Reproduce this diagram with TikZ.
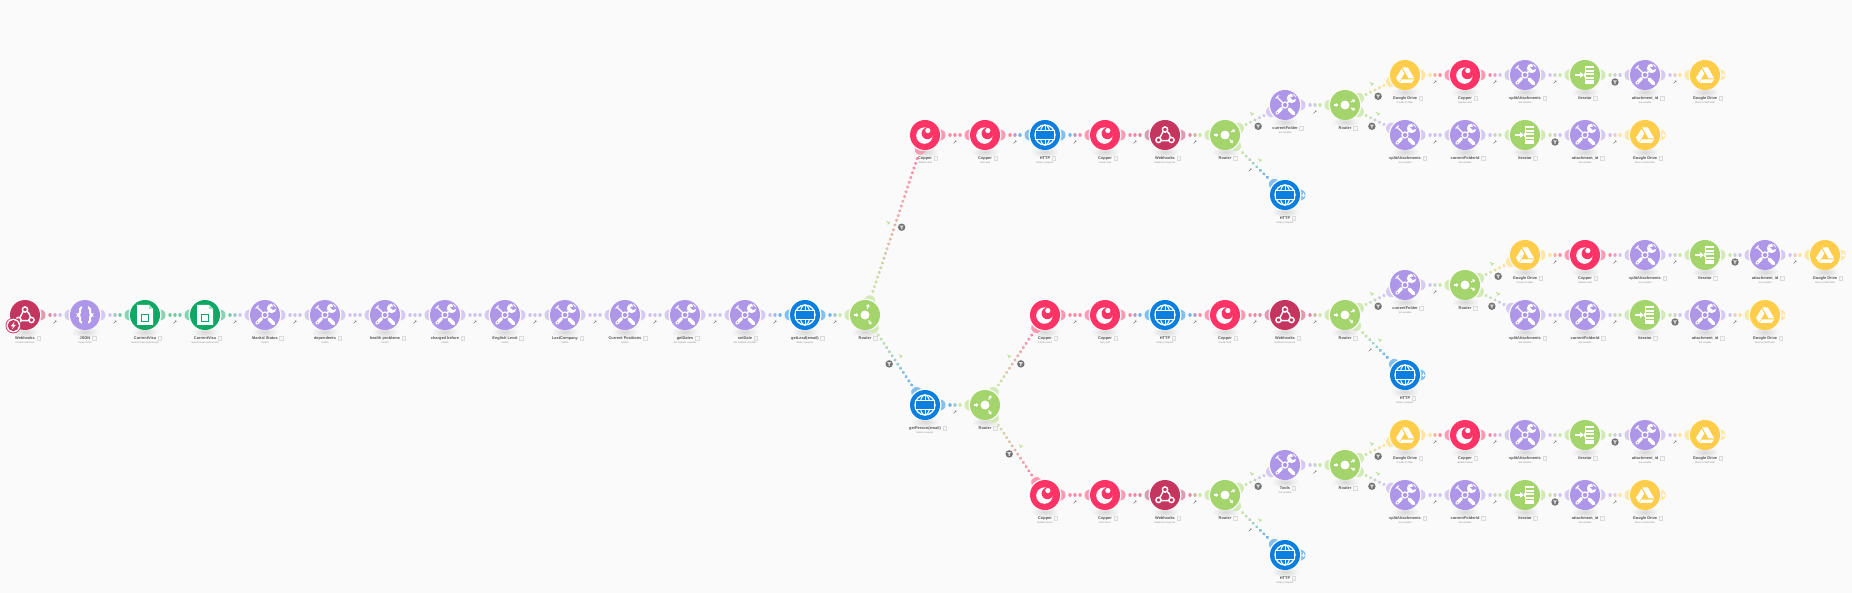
\documentclass[tikz,border=0pt]{standalone}
\usepackage{fontspec}
\setmainfont{Liberation Sans}
\usetikzlibrary{arrows.meta,positioning,calc}

\definecolor{bg}{HTML}{FAFAFA}
\definecolor{webhook}{HTML}{C4355F}
\definecolor{json}{HTML}{AE96E8}
\definecolor{tools}{HTML}{AE96E8}
\definecolor{sheets}{HTML}{0FA763}
\definecolor{http}{HTML}{0B7FE0}
\definecolor{router}{HTML}{A4D46C}
\definecolor{iterator}{HTML}{A4D46C}
\definecolor{copper}{HTML}{FF3366}
\definecolor{drive}{HTML}{FFCD4A}

\tikzset{
  modcircle/.style={circle, minimum size=30pt, inner sep=0pt, outer sep=0pt},
  modtitle/.style={inner sep=0pt, text=black!68, font=\bfseries\fontsize{3.9}{4.5}\selectfont},
  modsub/.style={inner sep=0pt, text=black!45, font=\fontsize{2.4}{3}\selectfont},
  notebox/.style={draw=black!14, fill=black!3, line width=.3pt, inner sep=0pt, minimum width=3.6pt, minimum height=4pt},
  linkdot/.style={line width=3.4pt, line cap=round, dash pattern=on 0.01pt off 900pt},
  routerarrow/.style={white, line width=1.1pt, -{Triangle[length=2.6pt,width=3.6pt]}},
  pics/webhookicon/.style={code={
    \draw[white, line width=1.4pt] (0,-5.5) circle (2.6) (-6.5,5) circle (2.6) (6.5,5) circle (2.6);
    \draw[white, line width=1.4pt] (-1.8,-3.6) .. controls (-3,-1) .. (-5.2,2.8) (2,-3.8) .. controls (4,-2) .. (5.4,2.6) (-4,5.6) -- (4,5.6);
  }},
  pics/jsonicon/.style={code={
    \draw[white, line width=2pt, rounded corners=1.5pt] (-3,-7.5) -- (-5,-7.5) -- (-5,-1) -- (-7,0) -- (-5,1) -- (-5,7.5) -- (-3,7.5);
    \draw[white, line width=2pt, rounded corners=1.5pt] (3,-7.5) -- (5,-7.5) -- (5,-1) -- (7,0) -- (5,1) -- (5,7.5) -- (3,7.5);
  }},
  pics/sheetsicon/.style={code={
    \fill[white] (-8,-10) -- (4,-10) -- (8,-6) -- (8,10) -- (-8,10) -- cycle;
    \draw[sheets, line width=1pt] (-3.5,-.8) rectangle (3.5,6.2);
    \fill[sheets!35!white] (4,-9.6) -- (7.6,-6) -- (4,-6) -- cycle;
  }},
  pics/toolsicon/.style={code={
    \draw[white, line width=1.2pt] (0,0) circle (3);
    \draw[white, line width=3.8pt, line cap=round] (4.2,4.2) -- (8.6,8.6);
    \draw[white, line width=1.1pt] (-2.2,-2.2) -- (-7.5,-7.5);
    \draw[white, line width=1.1pt] (-9.4,-6.4) -- (-6.4,-9.4);
    \draw[white, line width=1.6pt] (2.2,-2.2) -- (5,-5);
    \draw[white, line width=3.4pt, line cap=round] (-3.6,3.6) -- (-8.2,8.2);
    \fill[white] (6.6,-6.6) circle (4.8);
    \fill[tools] (8.4,-8.4) -- (5,-7.8) -- (7.8,-5) -- (11.8,-6.4) -- (6.4,-11.8) -- cycle;
    \fill[tools] (-7.6,7.6) circle (.9);
  }},
  pics/httpicon/.style={code={
    \draw[white, line width=1.3pt] (0,0) circle (10);
    \draw[white, line width=1pt] (0,0) ellipse (5 and 10);
    \draw[white, line width=1pt] (0,-10) -- (0,10);
    \fill[http] (-9.6,-4.6) rectangle (9.6,4.6);
    \draw[white, line width=1.3pt] (-9.6,-4.6) rectangle (9.6,4.6);
  }},
  pics/routericon/.style={code={
    \fill[white] (0,0) circle (4.5);
  }},
  pics/coppericon/.style={code={
    \fill[white] (-.6,.6) circle (8.2);
    \fill[copper] (2.4,-1.6) circle (5.8);
    \fill[white] (2.8,-4.4) circle (2.6);
  }},
  pics/driveicon/.style={code={
    \fill[white] (-2.8,-7.6) -- (2.8,-7.6) -- (9.2,3.4) -- (3.6,3.4) -- cycle;
    \fill[white] (-3.5,-6.2) -- (-.7,-1.4) -- (-6.1,7.6) -- (-9,2.8) -- cycle;
    \fill[white] (-3.5,4.5) -- (9.2,4.5) -- (6.4,7.8) -- (-5.4,7.8) -- cycle;
  }},
  pics/iteratoricon/.style={code={
    \fill[white] (-1,-9) rectangle (9,9);
    \foreach \s in {-6.6,-3.2,.2,3.6} \fill[iterator] (1.4,\s) rectangle (9.2,\s+1.5);
    \fill[iterator] (-1,-9) rectangle (.2,-2);
    \fill[iterator] (-1,9) rectangle (.2,2);
    \draw[white, line width=1.5pt, -{Triangle[length=4pt,width=5.5pt]}] (-10,0) -- (-1,0);
  }},
  pics/badgeicon/.style={code={
    \fill[webhook] (0,0) circle (7.8);
    \fill[white] (0,0) circle (6.9);
    \fill[webhook] (0,0) circle (5.6);
    \fill[white] (1.4,-4) -- (-2.6,.8) -- (-.2,.8) -- (-1.4,4) -- (2.6,-.8) -- (.2,-.8) -- cycle;
  }},
  pics/wrenchmark/.style={code={
    \draw[black!50, line width=.6pt] (-1.4,1.4) -- (.7,-.7);
    \fill[black!50] (.8,-.8) circle (.8);
  }},
  pics/filtermark/.style={code={
    \fill[black!55] (0,0) circle (3.7);
    \fill[white!85!black] (-2.1,-1.7) -- (2.1,-1.7) -- (.6,.4) -- (.6,2.1) -- (-.6,2.1) -- (-.6,.4) -- cycle;
  }},
  pics/greenmark/.style={code={
    \draw[router!80!white, line width=.8pt] (-1.8,-1.4) -- (1,.6) (-.8,1.6) -- (1.8,-.4);
  }},
}

% kind, name, x, y, title, subtitle
\newcommand{\modnode}[6]{
  \expandafter\xdef\csname kind#2\endcsname{#1}
  \shade[inner color=black!16, outer color=bg] ({#3},{#4+17}) ellipse (14 and 5.5);
  \node[modcircle, fill=#1] (#2) at ({#3},{#4}) {};
  \pic at (#2) {#1icon};
  \node[modtitle] (#2-t) at ({#3},{#4+23.3}) {#5};
  \node[notebox, right=1.5pt of #2-t] (#2-b) {};
  \def\tmpsub{#6}\ifx\tmpsub\nosub\else\node[modsub] (#2-s) at ({#3},{#4+27.8}) {#6};\fi
}
\def\nosub{-}

% node, direction, colour
\newcommand{\modear}[3]{
  \fill[#3!50!white, shift={(#1)}, rotate=#2] (20:16.5) arc[start angle=20, end angle=-20, radius=16.5]
    .. controls (18,-5.6) and (20.5,-3.2) .. (20.5,0) .. controls (20.5,3.2) and (18,5.6) .. (20:16.5) -- cycle;
}

% open end of a branch
\newcommand{\modend}[1]{
  \edef\ka{\csname kind#1\endcsname}
  \modear{#1}{0}{\ka}
  \draw[white, line width=.7pt] ($(#1)+(16.6,0)$) -- ($(#1)+(20,0)$) ($(#1)+(18.3,-1.7)$) -- ($(#1)+(18.3,1.7)$);
}

\def\routerword{router}
\newcommand{\modlink}[3][wrench]{
  \edef\ka{\csname kind#2\endcsname}
  \edef\kb{\csname kind#3\endcsname}
  \path let \p1=($(#3)-(#2)$), \n1={veclen(\x1,\y1)}, \n2={atan2(\y1,\x1)} in \pgfextra{\xdef\linklen{\n1}\xdef\linkang{\n2}};
  \pgfmathsetmacro\L{\linklen}
  \pgfmathtruncatemacro\num{round((\L-48)/5)+1}
  \modear{#2}{\linkang}{\ka}
  \modear{#3}{\linkang+180}{\kb}
  \foreach \k in {1,...,\num} {
    \pgfmathsetmacro\off{(\L-5*(\num-1))/2+5*(\k-1)-15}
    \pgfmathtruncatemacro\mx{100*(\num-\k)/(\num-1)}
    \draw[linkdot, draw=\ka!\mx!\kb!60!white, shorten <=\off pt] (#2) -- (#3);
  }
  \ifx\ka\routerword \draw[routerarrow] ($(#2)!6.5pt!(#3)$) -- ($(#2)!11.5pt!(#3)$); \fi
  \ifx\kb\routerword \draw[routerarrow] ($(#3)!11.5pt!(#2)$) -- ($(#3)!6.5pt!(#2)$); \fi
  \coordinate (mk) at ($(#2)!.5!(#3)!7pt!-90:(#3)$);
  \coordinate (gk) at ($(#2)!.5!(#3)!7pt!90:(#3)$);
  \pic at (mk) {#1mark};
  \ifdim\L pt>61pt \pic at (gk) {greenmark}; \fi
}

% what follows each of the three response routers
\newcommand{\modtail}[5]{
  \modnode{tools}{#1f}{1285+#2}{105+#3}{#4}{Set variable}
  \modnode{router}{#1r}{1345+#2}{105+#3}{Router}{-}
  \modnode{http}{#1h}{1285+#2}{195+#3}{HTTP}{Make a request}
  \modnode{drive}{#1u1}{1405+#2}{75+#3}{Google Drive}{Create a Folder}
  \modnode{copper}{#1u2}{1465+#2}{75+#3}{Copper}{#5}
  \modnode{tools}{#1u3}{1525+#2}{75+#3}{splitAttachments}{Set variable}
  \modnode{iterator}{#1u4}{1585+#2}{75+#3}{Iterator}{-}
  \modnode{tools}{#1u5}{1645+#2}{75+#3}{attachment\_id}{Set variable}
  \modnode{drive}{#1u6}{1705+#2}{75+#3}{Google Drive}{Move a File/Folder}
  \modnode{tools}{#1v1}{1405+#2}{135+#3}{splitAttachments}{Set variable}
  \modnode{tools}{#1v2}{1465+#2}{135+#3}{currentFolderId}{Set variable}
  \modnode{iterator}{#1v3}{1525+#2}{135+#3}{Iterator}{-}
  \modnode{tools}{#1v4}{1585+#2}{135+#3}{attachment\_id}{Set variable}
  \modnode{drive}{#1v5}{1645+#2}{135+#3}{Google Drive}{Move a File/Folder}
  \modlink[filter]{#1s}{#1f} \modlink{#1s}{#1h} \modlink{#1f}{#1r}
  \modlink[filter]{#1r}{#1u1} \modlink[filter]{#1r}{#1v1}
  \modlink{#1u1}{#1u2} \modlink{#1u2}{#1u3} \modlink{#1u3}{#1u4} \modlink[filter]{#1u4}{#1u5} \modlink{#1u5}{#1u6}
  \modlink{#1v1}{#1v2} \modlink{#1v2}{#1v3} \modlink[filter]{#1v3}{#1v4} \modlink{#1v4}{#1v5}
  \modend{#1h} \modend{#1u6} \modend{#1v5}
}

\begin{document}
\begin{tikzpicture}[x=1pt, y=-1pt]
\path[use as bounding box, fill=bg] (0,0) rectangle (1852,593);
% main line
\foreach \kd/\ttl/\sb [count=\i] in {webhook/Webhooks/Custom webhook, json/JSON/Parse JSON, sheets/CurrentVisa/Search Rows (Advanced), sheets/CurrentVisa/Search Rows (Advanced), tools/Marital Status/Switch, tools/dependents/Switch, tools/health problems/Switch, tools/charged before/Switch, tools/English Level/Switch, tools/LastCompany/Switch, tools/Current Positions/Switch, tools/getDates/Set multiple variables, tools/setDate/Set multiple variables, http/getLead(email)/Make a request, router/Router/-}
  {\modnode{\kd}{a\i}{25+60*(\i-1)}{315}{\ttl}{\sb}}
\foreach \i [count=\j from 2] in {1,...,14} {\modlink{a\i}{a\j}}
\pic at ($(a1)+(-11.7,10.6)$) {badgeicon};
\modnode{http}{p1}{925}{405}{getPerson(email)}{Make a request}
\modnode{router}{p2}{985}{405}{Router}{-}
\modlink[filter]{a15}{p1} \modlink{p1}{p2}
% lead found
\modnode{copper}{t1}{925}{135}{Copper}{Update Lead}
\modnode{copper}{t2}{985}{135}{Copper}{Get Lead}
\modnode{http}{t3}{1045}{135}{HTTP}{Make a request}
\modnode{copper}{t4}{1105}{135}{Copper}{Create Task}
\modnode{webhook}{t5}{1165}{135}{Webhooks}{Webhook response}
\modnode{router}{ts}{1225}{135}{Router}{-}
\modlink[filter]{a15}{t1} \modlink{t1}{t2} \modlink{t2}{t3} \modlink{t3}{t4} \modlink{t4}{t5} \modlink{t5}{ts}
\modtail{t}{0}{0}{currentFolder}{Update Lead}
% person found, new lead
\modnode{copper}{m1}{1045}{315}{Copper}{Create Lead}
\modnode{copper}{m2}{1105}{315}{Copper}{Get Lead}
\modnode{http}{m3}{1165}{315}{HTTP}{Make a request}
\modnode{copper}{m4}{1225}{315}{Copper}{Create Task}
\modnode{webhook}{m5}{1285}{315}{Webhooks}{Webhook response}
\modnode{router}{ms}{1345}{315}{Router}{-}
\modlink[filter]{p2}{m1} \modlink{m1}{m2} \modlink{m2}{m3} \modlink{m3}{m4} \modlink{m4}{m5} \modlink{m5}{ms}
\modtail{m}{120}{180}{currentFolder}{Update Lead}
% person only
\modnode{copper}{b1}{1045}{495}{Copper}{Update Person}
\modnode{copper}{b2}{1105}{495}{Copper}{Get Person}
\modnode{webhook}{b3}{1165}{495}{Webhooks}{Webhook response}
\modnode{router}{bs}{1225}{495}{Router}{-}
\modlink[filter]{p2}{b1} \modlink{b1}{b2} \modlink{b2}{b3} \modlink{b3}{bs}
\modtail{b}{0}{360}{Tools}{Update Person}
\end{tikzpicture}
\end{document}
